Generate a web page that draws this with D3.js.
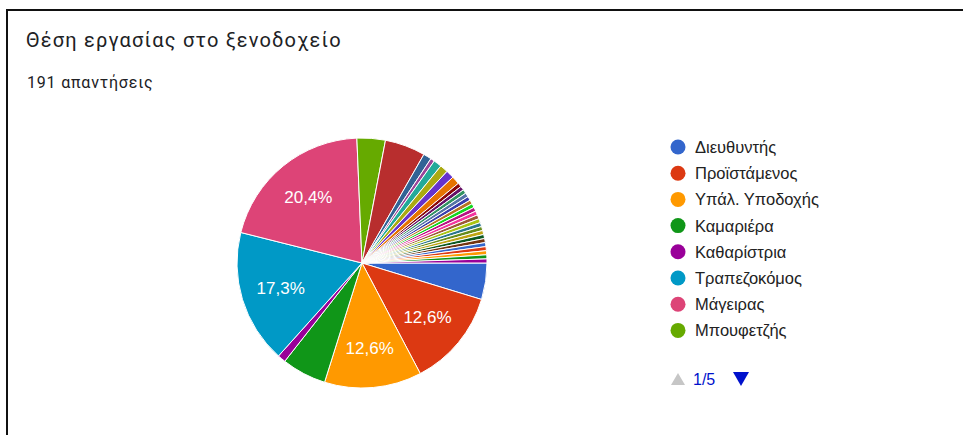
<!DOCTYPE html>
<html lang="el">
<head>
<meta charset="utf-8">
<script src="https://cdn.jsdelivr.net/npm/d3@7"></script>
<style>
  html, body { margin: 0; padding: 0; background: #fff; }
  svg { display: block; }
</style>
</head>
<body>
<svg id="chart" width="963" height="435"></svg>
<script>
// Answers to "Θέση εργασίας στο ξενοδοχείο", 191 responses in total.
const categories = [
  "Διευθυντής", "Προϊστάμενος", "Υπάλ. Υποδοχής", "Καμαριέρα", "Καθαρίστρια",
  "Τραπεζοκόμος", "Μάγειρας", "Μπουφετζής", "Μπάρμαν", "Βοηθός μάγειρα",
  "Λαντζέρης", "Συντηρητής", "Σερβιτόρος", "Γκουβερνάντα", "Πορτιέρης",
  "Λογιστής", "Ζαχαροπλάστης", "Αρχισερβιτόρος", "Νυχτοφύλακας", "Κηπουρός",
  "Ναυαγοσώστης", "Οδηγός", "Ηλεκτρολόγος", "Υπεύθυνος κρατήσεων", "Αποθηκάριος",
  "Υπεύθυνος ορόφων", "Τηλεφωνητής", "Μπελμπόης", "Πλύντρια", "Βοηθός σερβιτόρου",
  "Υπεύθυνος προσωπικού", "Αρχιμάγειρας", "Υπάλληλος μάρκετινγκ", "Ψυχαγωγός",
  "Θεραπευτής spa", "Φύλακας"
];
const counts = [
  9, 24, 24, 11, 2, 33, 39, 7, 10, 2,
  1, 2, 2, 2, 2, 1, 1, 1, 1, 1,
  1, 1, 1, 1, 1, 1, 1, 1, 1, 1,
  1, 1, 1, 1, 1, 1
];
const palette = [
  "#3366cc", "#dc3912", "#ff9900", "#109618", "#990099", "#0099c6", "#dd4477",
  "#66aa00", "#b82e2e", "#316395", "#994499", "#22aa99", "#aaaa11", "#6633cc",
  "#e67300", "#8b0707", "#651067", "#329262", "#5574a6", "#3b3eac", "#b77322",
  "#16d620", "#b91383", "#f4359e", "#9c5935", "#a9c413", "#2a778d", "#668d1c",
  "#bea413", "#0c5922", "#743411"
];
const titleText = "Θέση εργασίας στο ξενοδοχείο";
const subtitleText = "191 απαντήσεις";
const pagerText = "1/5";
const legendPageSize = 8;

const svg = d3.select("#chart");
const total = d3.sum(counts);
const data = categories.map((name, i) => ({ name, value: counts[i], i }));
const color = d3.scaleOrdinal().domain(d3.range(categories.length)).range(palette);

// Card frame: left and top edges
svg.append("path")
  .attr("d", "M7,435 V10 H963")
  .attr("fill", "none")
  .attr("stroke", "#111")
  .attr("stroke-width", 2);

svg.append("text")
  .attr("x", 26).attr("y", 47)
  .attr("font-family", "Roboto, 'Noto Sans', sans-serif")
  .attr("font-size", 20)
  .attr("letter-spacing", 1.2)
  .attr("fill", "#202124")
  .text(titleText);

svg.append("text")
  .attr("x", 27).attr("y", 88)
  .attr("font-family", "Roboto, 'Noto Sans', sans-serif")
  .attr("font-size", 16)
  .attr("letter-spacing", 0.8)
  .attr("fill", "#202124")
  .text(subtitleText);

// Pie, starting at 3 o'clock and running clockwise
const cx = 362, cy = 263, radius = 125;
const pie = d3.pie().sort(null).value(d => d.value)
  .startAngle(Math.PI / 2).endAngle(Math.PI / 2 + 2 * Math.PI);
const arcs = pie(data);
const arc = d3.arc().innerRadius(0).outerRadius(radius);
const labelArc = d3.arc().innerRadius(85).outerRadius(85);

const g = svg.append("g").attr("transform", `translate(${cx},${cy})`);
g.selectAll("path.slice")
  .data(arcs)
  .join("path")
  .attr("class", "slice")
  .attr("d", arc)
  .attr("fill", d => color(d.data.i))
  .attr("stroke", "#fff")
  .attr("stroke-width", 1);

const fmt = v => (v * 100).toFixed(1).replace(".", ",") + "%";
g.selectAll("text.pct")
  .data(arcs.filter(d => d.data.value / total >= 0.1))
  .join("text")
  .attr("class", "pct")
  .attr("transform", d => `translate(${labelArc.centroid(d)})`)
  .attr("text-anchor", "middle")
  .attr("dy", "0.36em")
  .attr("font-family", "Arial, 'Liberation Sans', sans-serif")
  .attr("font-size", 17)
  .attr("fill", "#fff")
  .text(d => fmt(d.data.value / total));

// Legend, first page
const legend = svg.append("g").attr("transform", "translate(678,147)");
const rows = legend.selectAll("g.row")
  .data(data.slice(0, legendPageSize))
  .join("g")
  .attr("class", "row")
  .attr("transform", (d, k) => `translate(0,${k * 26.2})`);
rows.append("circle").attr("r", 7.5).attr("fill", d => color(d.i));
rows.append("text")
  .attr("x", 17).attr("dy", "0.36em")
  .attr("font-family", "Arial, 'Liberation Sans', sans-serif")
  .attr("font-size", 16.5)
  .attr("fill", "#222")
  .text(d => d.name);

// Pager
const pager = svg.append("g").attr("transform", "translate(678,379)");
pager.append("path").attr("d", "M-7,6 L0,-6 L7,6 Z").attr("fill", "#c6c6c6");
pager.append("text")
  .attr("x", 15).attr("dy", "0.36em")
  .attr("font-family", "Arial, 'Liberation Sans', sans-serif")
  .attr("font-size", 16)
  .attr("fill", "#0011cc")
  .text(pagerText);
pager.append("path").attr("d", "M55,-7 L71,-7 L63,7 Z").attr("fill", "#0011cc");
</script>
</body>
</html>
